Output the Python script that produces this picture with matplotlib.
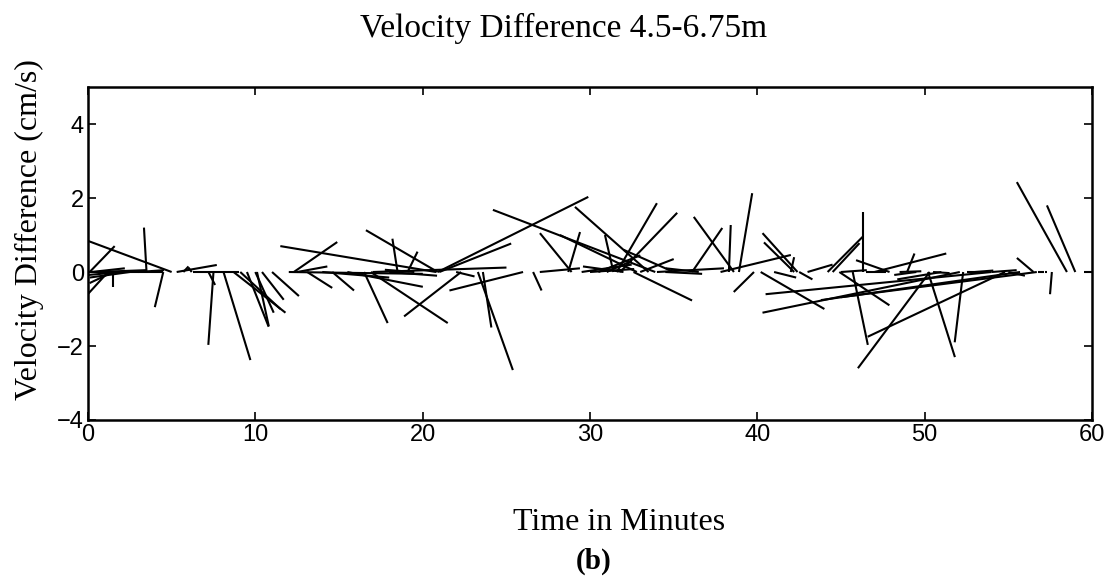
import numpy as np
import matplotlib
matplotlib.use("Agg")
import matplotlib.pyplot as plt

# Stick plot: each stick starts at (t, 0) and points along (u, v)
# t in minutes, u and v in cm/s

t_min = [0.1, 0.2, 0.5, 0.0, 1.2, 1.5, 1.5, 2.5, 3.5, 4.5, 5.0, 5.3, 5.7, 6.2, 6.3, 7.2, 7.5, 8.1, 8.7, 9.1, 9.5, 10.0, 10.1, 10.4, 11.0,
         12.0, 12.3, 12.5, 13.1, 14.0, 14.6, 15.5, 16.5, 16.9, 17.0, 18.5, 19.1, 20.8, 20.9, 20.9, 21.0, 22.3, 23.3, 23.6, 26.0, 26.6, 27.0,
         28.7, 28.9, 29.5, 30.5, 31.0, 31.4, 31.6, 31.8, 32.6, 32.8, 33.0, 33.5, 33.9, 34.0, 35.0, 36.1, 37.8, 38.3, 38.6, 38.9, 39.8,
         40.2, 42.0, 42.2, 42.4, 42.5, 43.0, 44.2, 44.5, 44.9, 45.7, 46.3, 46.5, 47.0, 47.9, 48.5, 48.95, 50.2, 50.3, 50.5, 52.1, 52.3,
         52.5, 54.0, 54.0, 54.8, 55.0, 55.7, 56.5, 56.7, 56.8, 57.2, 57.6, 58.5, 59.0, 59.5,
         2.0, 3.0, 18.0, 19.5, 22.0, 30.0, 32.0, 34.5, 36.5, 41.0, 45.0, 49.5, 51.0, 53.0]

u_cms = [0.68, 0.91, 1.36, 2.05, -0.55, 0.00, -0.64, -1.09, -0.07, -0.23, -2.27, 1.09, 0.14, -0.09, 1.23, 0.18, -0.14, 0.73, 1.41, 1.09, 0.59, 0.50, 0.32, 0.59, 0.73,
         3.64, 1.18, 0.82, 0.68, 1.82, 0.59, 2.05, 0.64, 2.09, 3.64, -0.14, 0.27, -4.23, -1.95, 4.09, 1.95, -1.55, 0.95, 0.23, -2.00, 0.23, 1.09,
         0.32, -0.86, 1.36, 1.14, 0.68, -0.23, 1.09, 1.55, 1.59, -2.09, 0.91, -2.00, -4.41, 1.82, -1.36, 0.82, 1.91, 0.05, -1.09, 0.36, -0.55,
         1.73, 0.09, -0.82, -0.95, 0.36, 0.68, 0.95, 0.73, 1.36, 0.41, 0.00, 0.55, 1.95, -0.91, 0.59, 0.20, 0.73, -1.95, 0.45, -5.36, -0.23,
         0.45, -6.14, 0.68, -3.73, 0.45, -5.41, -0.45, -5.32, 0.14, 0.05, -0.05, -1.36, -0.77, 0.27,
         -0.90, 0.70, 1.30, -0.80, 0.50, 1.20, -1.10, 1.00, -0.90, 0.60, 0.70, -0.60, -1.20, 0.50]

v_cms = [0.70, 0.10, 0.05, 0.00, -0.60, -0.40, -0.30, -0.15, 1.20, -0.95, 0.84, 0.19, 0.15, 0.12, 0.00, -0.35, -1.97, -2.38, -1.10, -1.00, -1.48, -1.10, -1.46, -0.75, -0.65,
         -0.05, 0.81, 0.15, -0.43, -0.15, -0.50, -0.40, -1.38, -1.38, 0.12, 0.90, 0.55, 0.70, 1.13, 2.03, 0.77, -1.20, -2.65, -1.50, -0.50, -0.50, 0.10,
         1.08, 1.05, 0.20, 0.45, 0.30, 1.00, 1.86, 1.60, -0.77, 1.00, 0.35, 1.76, 1.68, 0.10, 0.60, 1.19, 0.46, 1.27, 1.49, 2.13, -0.54,
         -1.00, 0.40, 0.80, 1.05, -0.20, 0.20, 0.95, 0.78, -0.90, -1.97, 1.62, 0.00, 0.50, 0.32, 0.02, 0.50, -2.30, -2.60, -0.03, -1.10, -1.90,
         0.00, -0.60, 0.05, -1.75, -0.10, -0.76, 0.38, -0.68, 0.00, 0.00, -0.60, 2.43, 1.80, 0.00,
         -0.08, 0.05, -0.10, 0.06, -0.12, 0.08, 0.15, -0.05, 0.10, -0.15, 0.05, -0.08, -0.20, 0.04]

# minutes drawn per 1 cm/s of horizontal component
xscale = 2.2

plt.rcParams['font.family'] = ['Liberation Serif', 'DejaVu Serif']

fig = plt.figure(figsize=(11.15, 5.77), dpi=100)
ax = fig.add_axes([0.0789, 0.2721, 0.9005, 0.5771])

for t, u, v in zip(t_min, u_cms, v_cms):
    ax.plot([t, t + u * xscale], [0, v], color="black", lw=1.5, solid_capstyle="butt")

ax.set_xlim(0, 60)
ax.set_ylim(-4, 5)
ax.set_xticks([0, 10, 20, 30, 40, 50, 60])
ax.set_yticks([-4, -2, 0, 2, 4])
ax.tick_params(direction="in", length=6, width=1.2, top=True, right=True,
               labelsize=17, pad=3)
for lab in ax.get_xticklabels() + ax.get_yticklabels():
    lab.set_family("Liberation Sans")
for s in ax.spines.values():
    s.set_linewidth(1.8)

fig.text(0.505, 0.95, "Velocity Difference 4.5-6.75m", ha="center", va="center", fontsize=24)
fig.text(0.026, 0.603, "Velocity Difference (cm/s)", rotation=90, ha="center", va="center", fontsize=23)
fig.text(0.555, 0.095, "Time in Minutes", ha="center", va="center", fontsize=23)
fig.text(0.532, 0.027, "(b)", ha="center", va="center", fontsize=21, fontweight="bold")

fig.savefig("out.png", dpi=100)
